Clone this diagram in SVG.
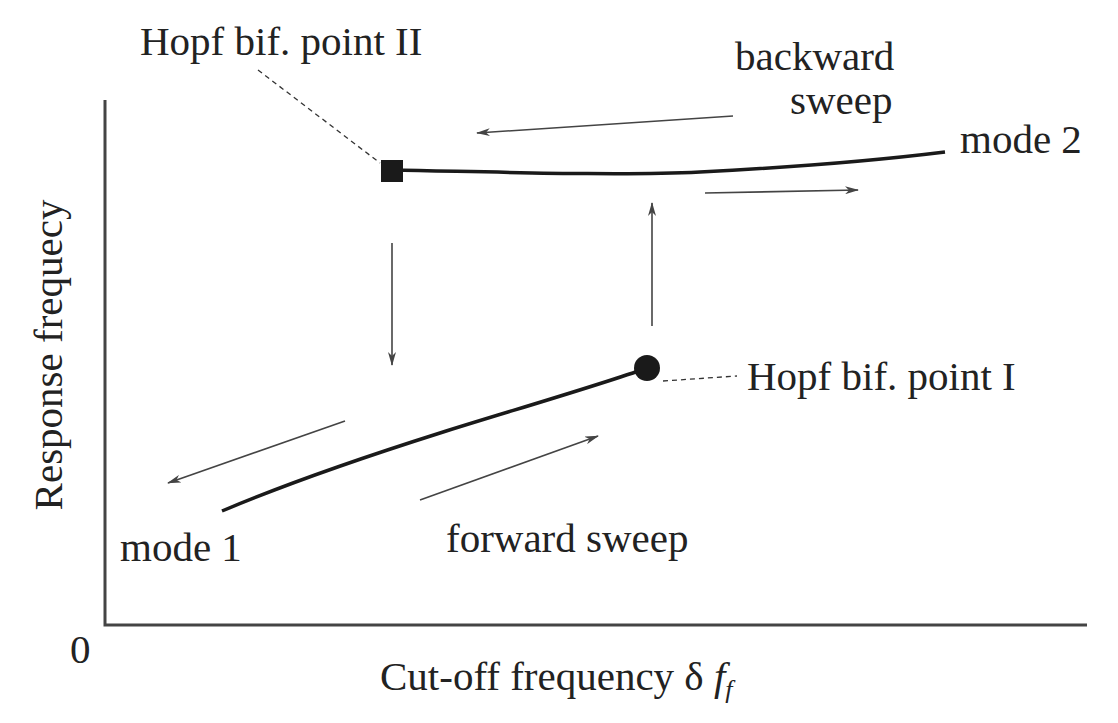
<svg xmlns="http://www.w3.org/2000/svg" width="1118" height="723" viewBox="0 0 1118 723">
<style>
text{font-family:'Liberation Serif','Times New Roman',serif;font-size:41px;fill:#222}
.ar{stroke:#444;stroke-width:1.6;fill:none;marker-end:url(#ah)}
.cv{stroke:#1a1a1a;stroke-width:3.5;fill:none}
.ds{stroke:#333;stroke-width:1.3;stroke-dasharray:5,4;fill:none}
</style>
<defs><marker id="ah" markerWidth="14" markerHeight="8" refX="13" refY="4" orient="auto" markerUnits="userSpaceOnUse"><path d="M0,0 L14,4 L0,8 L4,4Z" fill="#444"/></marker></defs>
<rect width="1118" height="723" fill="#fff"/>
<g id="axes"><path d="M105,100 V625 H1087" stroke="#444" stroke-width="3" fill="none"/>
<text x="70" y="663">0</text>
<text x="380" y="690">Cut-off frequency δ <tspan font-style="italic">f</tspan><tspan font-style="italic" font-size="26" dy="8">f</tspan></text>
<text transform="translate(62,355) rotate(-90)" text-anchor="middle">Response frequecy</text></g>
<g id="mode2"><path class="cv" d="M392,170 C500,172 620,176 700,172 S880,160 945,152"/><text x="960" y="153">mode 2</text></g>
<g id="mode1"><path class="cv" d="M222,511 C300,478 380,452 440,433 S600,385 647,368"/><text x="120" y="561">mode 1</text></g>
<g id="hopf2"><rect x="381" y="160" width="22" height="22" fill="#1a1a1a"/><text x="140" y="55">Hopf bif. point II</text></g>
<g id="hopf1"><circle cx="647" cy="368" r="13" fill="#1a1a1a"/><text x="747" y="390">Hopf bif. point I</text></g>
<g id="labels"><text x="735" y="70" font-size="39">backward</text><text x="790" y="114" font-size="39">sweep</text><text x="446" y="552">forward sweep</text></g>
<g id="connectors">
<path class="ar" d="M733,116 L477,133"/>
<path class="ar" d="M705,193 L858,190"/>
<path class="ar" d="M652,326 L652,203"/>
<path class="ar" d="M392,243 L392,365"/>
<path class="ar" d="M345,421 L168,483"/>
<path class="ar" d="M420,500 L598,436"/>
<path class="ds" d="M258,70 L380,163"/>
<path class="ds" d="M663,381 L737,376"/>
</g>
</svg>
